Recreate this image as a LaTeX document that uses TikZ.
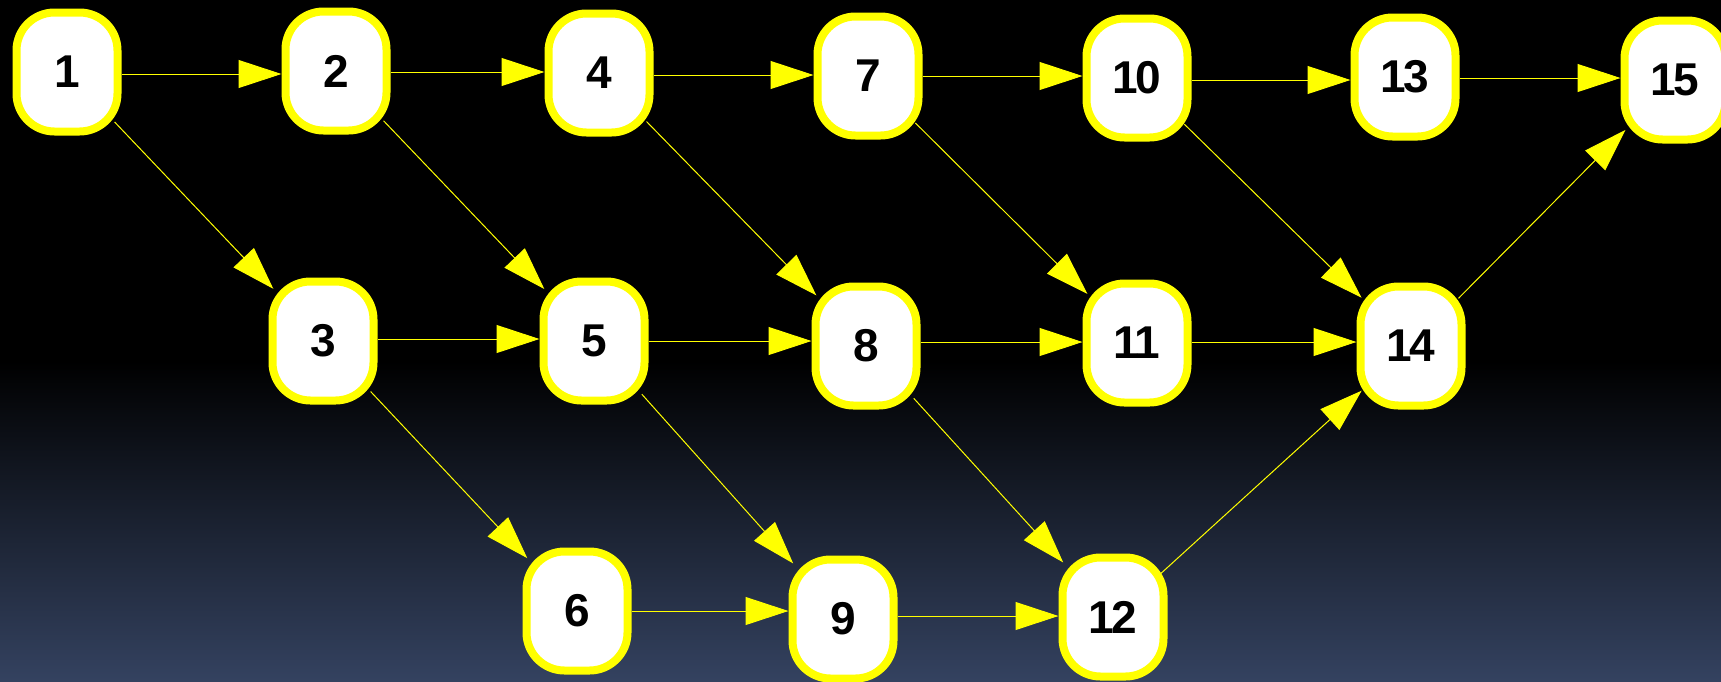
\documentclass[tikz,border=0pt]{standalone}
\usepackage{fontspec}
\setmainfont{Liberation Sans}
\usetikzlibrary{arrows.meta}
\definecolor{bgblue}{RGB}{52,66,96}
\definecolor{nodeyellow}{RGB}{255,255,0}
\pgfdeclarelayer{bglayer}
\pgfdeclarelayer{edgelayer}
\pgfsetlayers{bglayer,edgelayer,main}
\begin{document}
\begin{tikzpicture}[x=1pt,y=-1pt,
  num/.style={draw=nodeyellow, line width=8pt, fill=white, rounded corners=38pt,
    minimum width=101pt, minimum height=119pt, inner sep=0pt,
    font=\fontsize{46}{46}\selectfont\bfseries\addfontfeature{LetterSpace=-5}, text=black},
  link/.style={draw=nodeyellow, line width=1pt, -{Triangle[length=43pt,width=28pt]}},
  diag/.style={link, shorten >=-7pt, shorten <=-10pt}]
\begin{pgfonlayer}{bglayer}
  \fill[black] (0,0) rectangle (1721,362);
  \shade[top color=black, bottom color=bgblue] (0,361) rectangle (1721,681);
\end{pgfonlayer}
\useasboundingbox (0,0) rectangle (1721,681);
% top row
\node[num] (n1)  at (67,72)   {1};
\node[num] (n2)  at (336,71)  {2};
\node[num] (n4)  at (599,73)  {4};
\node[num] (n7)  at (868,76)  {7};
\node[num] (n10) at (1137,78) {10};
\node[num] (n13) at (1405,77) {13};
\node[num] (n15) at (1675,80) {15};
% middle row
\node[num] (n3)  at (323,341)  {3};
\node[num] (n5)  at (594,341)  {5};
\node[num] (n8)  at (866,346)  {8};
\node[num] (n11) at (1137,343) {11};
\node[num] (n14) at (1411,346) {14};
% bottom row
\node[num] (n6)  at (577,611)  {6};
\node[num] (n9)  at (843,619)  {9};
\node[num] (n12) at (1113,617) {12};
\begin{pgfonlayer}{edgelayer}
  \draw[link] ([yshift=-2pt]n1.east) -- ([yshift=-2pt]n1.east -| n2.west);
  \draw[link] ([yshift=-1pt]n2.east) -- ([yshift=-1pt]n2.east -| n4.west);
  \draw[link] ([yshift=-2pt]n4.east) -- ([yshift=-2pt]n4.east -| n7.west);
  \draw[link] (n7.east) -- (n7.east -| n10.west);
  \draw[link] ([yshift=-2pt]n10.east) -- ([yshift=-2pt]n10.east -| n13.west);
  \draw[link] ([yshift=-1pt]n13.east) -- ([yshift=-1pt]n13.east -| n15.west);
  \draw[link] ([yshift=2pt]n3.east) -- ([yshift=2pt]n3.east -| n5.west);
  \draw[link] (n5.east) -- (n5.east -| n8.west);
  \draw[link] ([yshift=4pt]n8.east) -- ([yshift=4pt]n8.east -| n11.west);
  \draw[link] ([yshift=1pt]n11.east) -- ([yshift=1pt]n11.east -| n14.west);
  \draw[link] (n6.east) -- (n6.east -| n9.west);
  \draw[link] ([yshift=3pt]n9.east) -- ([yshift=3pt]n9.east -| n12.west);
  \draw[diag] (n1) -- (n3);
  \draw[diag] (n2) -- (n5);
  \draw[diag] (n3) -- (n6);
  \draw[diag] (n4) -- (n8);
  \draw[diag] (n5) -- (n9);
  \draw[diag] (n7) -- (n11);
  \draw[diag] (n8) -- (n12);
  \draw[diag] (n10) -- (n14);
  \draw[diag] (n12) -- (n14);
  \draw[diag] (n14) -- (n15);
\end{pgfonlayer}
\end{tikzpicture}
\end{document}
